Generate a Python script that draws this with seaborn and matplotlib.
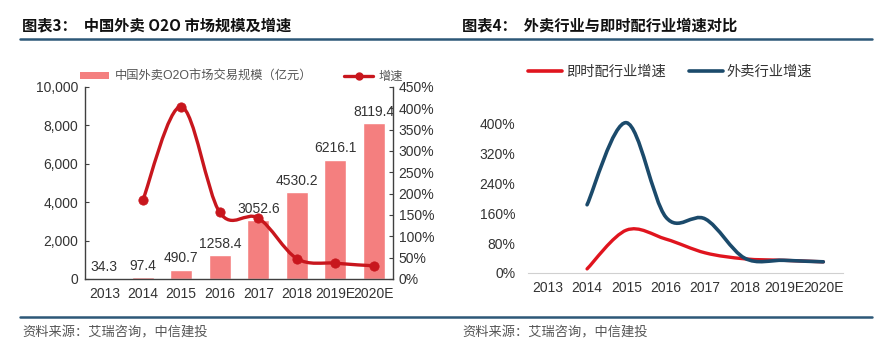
import numpy as np
import matplotlib
matplotlib.use("Agg")
import matplotlib.pyplot as plt
import seaborn as sns
from matplotlib.path import Path
from matplotlib.patches import PathPatch
from matplotlib.lines import Line2D
from matplotlib.ticker import FuncFormatter

# data
years = ["2013", "2014", "2015", "2016", "2017", "2018", "2019E", "2020E"]
market_size = [34.3, 97.4, 490.7, 1258.4, 3052.6, 4530.2, 6216.1, 8119.4]   # 亿元
growth_years = years[1:]
market_growth = [184, 404, 156, 143, 48, 37, 31]                           # %
delivery_growth = [11, 115, 91, 54, 38, 34, 30]                             # 即时配 %
takeout_growth = [183, 403, 150, 145, 40, 34, 30]                           # 外卖 %

BAR = "#F47F7F"
RED = "#C8161D"
RED2 = "#E0141E"
BLUE = "#1B4A6B"
RULE = "#2D5878"
TXT = "#333333"

sns.set_style("white")
plt.rcParams["font.family"] = ["Liberation Sans", "Noto Sans CJK SC", "DejaVu Sans"]


def smooth_path(xs, ys):
    # catmull-rom style smoothing, like the excel "smoothed line" option
    pts = np.column_stack([xs, ys]).astype(float)
    n = len(pts)
    verts = [pts[0]]
    codes = [Path.MOVETO]
    for i in range(n - 1):
        p0 = pts[i - 1] if i > 0 else pts[i]
        p1, p2 = pts[i], pts[i + 1]
        p3 = pts[i + 2] if i + 2 < n else pts[i + 1]
        verts += [p1 + (p2 - p0) / 6, p2 - (p3 - p1) / 6, p2]
        codes += [Path.CURVE4] * 3
    return Path(verts, codes)


W, H = 889, 353
fig = plt.figure(figsize=(W / 100, H / 100), dpi=100)


def fx(px):
    return px / W


def fy(py):
    return 1 - py / H


# ---------- left chart ----------
ax = fig.add_axes([fx(85), fy(279), fx(393 - 85), fy(87) - fy(279)])
sns.barplot(x=years, y=market_size, color=BAR, saturation=1, width=0.56, ax=ax)
ax.bar_label(ax.containers[0], fmt="%.1f", padding=3, fontsize=10, color=TXT)
ax.set_xlim(-0.5, 7.5)
ax.set_ylim(0, 10000)
ax.set_yticks(range(0, 10001, 2000))
ax.yaxis.set_major_formatter(FuncFormatter(lambda v, p: f"{int(v):,}"))
ax.set_xlabel("")
ax.set_ylabel("")

ax2 = ax.twinx()
gx = [years.index(y) for y in growth_years]
ax2.add_patch(PathPatch(smooth_path(gx, market_growth), fill=False, ec=RED, lw=2.4,
                        capstyle="round", zorder=3))
sns.scatterplot(x=gx, y=market_growth, color=RED, s=45, edgecolor=RED, zorder=4, ax=ax2)
ax2.set_ylim(0, 450)
ax2.set_yticks(range(0, 451, 50))
ax2.yaxis.set_major_formatter(FuncFormatter(lambda v, p: f"{int(v)}%"))
ax2.set_xlim(-0.5, 7.5)

for a in (ax, ax2):
    for s in a.spines.values():
        s.set_color("#404040")
        s.set_linewidth(1)
    a.spines["top"].set_visible(False)
ax.spines["right"].set_visible(False)
ax2.spines["left"].set_visible(False)
ax2.spines["bottom"].set_visible(False)
ax.tick_params(axis="y", direction="in", length=3, pad=5, labelsize=10,
               labelcolor=TXT, color="#404040", left=True)
ax.tick_params(axis="x", length=0, pad=6, labelsize=10, labelcolor=TXT)
ax2.tick_params(axis="y", direction="in", length=3, pad=4, labelsize=10,
                labelcolor=TXT, color="#404040", right=True)

handles = [
    plt.Rectangle((0, 0), 1, 1, fc=BAR, ec="none"),
    Line2D([], [], color=RED, lw=2.4, marker="o", markersize=5),
]
fig.legend(handles, ["中国外卖O2O市场交易规模（亿元）", "增速"], loc="center left",
           bbox_to_anchor=(fx(80), fy(77)), ncol=2, frameon=False, fontsize=8.8,
           handlelength=2.4, handleheight=0.45, handletextpad=0.45, columnspacing=2.6,
           borderpad=0, borderaxespad=0, labelcolor="#555555")

# ---------- right chart ----------
bx = fig.add_axes([fx(528), fy(273), fx(843 - 528), fy(94) - fy(273)])
sns.lineplot(x=years, y=[np.nan] * len(years), ax=bx)
bx.add_patch(PathPatch(smooth_path(gx, delivery_growth), fill=False, ec=RED2, lw=2.4,
                       capstyle="round", zorder=3))
bx.add_patch(PathPatch(smooth_path(gx, takeout_growth), fill=False, ec=BLUE, lw=2.6,
                       capstyle="round", zorder=3))
bx.set_xlim(-0.5, 7.5)
bx.set_ylim(0, 480)
bx.set_yticks(range(0, 401, 80))
bx.yaxis.set_major_formatter(FuncFormatter(lambda v, p: f"{int(v)}%"))
bx.set_xlabel("")
bx.set_ylabel("")
sns.despine(ax=bx, left=True)
bx.spines["bottom"].set_color("#d0d0d0")
bx.tick_params(axis="y", length=0, pad=9, labelsize=10, labelcolor=TXT)
bx.tick_params(axis="x", length=0, pad=6, labelsize=10, labelcolor=TXT)

fig.legend([Line2D([], [], color=RED2, lw=2.6), Line2D([], [], color=BLUE, lw=2.6)],
           ["即时配行业增速", "外卖行业增速"], loc="center left",
           bbox_to_anchor=(fx(528), fy(72)), ncol=2, frameon=False, fontsize=10.3,
           handlelength=2.4, handletextpad=0.25, columnspacing=1.6,
           borderpad=0, borderaxespad=0, labelcolor=TXT)

# ---------- headers, rules, sources ----------
fig.text(fx(22), fy(25), "图表3：  中国外卖 O2O 市场规模及增速", fontsize=11,
         fontweight="bold", color="#111111", va="center",
         family=["Noto Sans CJK SC", "DejaVu Sans"])
fig.text(fx(462), fy(25), "图表4：  外卖行业与即时配行业增速对比", fontsize=11,
         fontweight="bold", color="#111111", va="center",
         family=["Noto Sans CJK SC", "DejaVu Sans"])
for yy in (39, 317):
    fig.add_artist(Line2D([fx(20), fx(872)], [fy(yy), fy(yy)], color=RULE, lw=1.8))
for xx in (22, 462):
    fig.text(fx(xx), fy(333), "资料来源：艾瑞咨询，中信建投", fontsize=9.5, color="#555555",
             va="center", family=["Noto Sans CJK SC", "DejaVu Sans"])

fig.savefig("out.png", dpi=100)
